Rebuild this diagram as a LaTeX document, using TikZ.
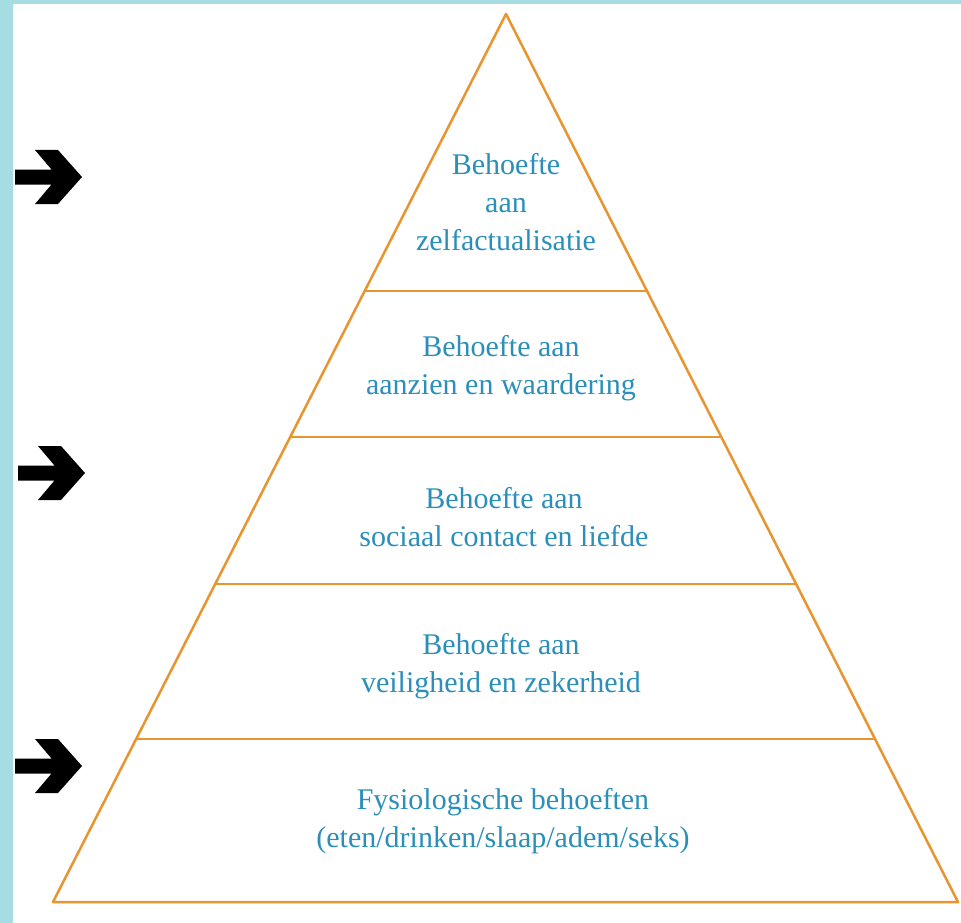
\documentclass[tikz,border=0pt]{standalone}
\usepackage{fontspec}
\setmainfont{Liberation Serif}
\usetikzlibrary{positioning,calc}
\definecolor{framebl}{HTML}{A6DDE3}
\definecolor{pyrorange}{HTML}{E8952F}
\definecolor{labelbl}{HTML}{2B8FB9}

\begin{document}
\begin{tikzpicture}[
    x=1pt, y=-1pt,
    every node/.style={
        text=labelbl,
        align=center,
        inner sep=0pt,
        font=\fontsize{30}{38}\selectfont
    },
    level/.style={draw=pyrorange, line width=2.5pt, line join=round}
]
\fill[white] (0,0) rectangle (961,923);
\fill[framebl] (0,0) rectangle (13,923);
\fill[framebl] (0,0) rectangle (961,4);

\coordinate (apex) at (506,14);
\coordinate (bl) at (53,902);
\coordinate (br) at (958,902);
\draw[level] (apex) -- (bl) -- (br) -- cycle;
\foreach \t in {0.3119,0.4764,0.6419,0.8164}
  \draw[level] ($(apex)!\t!(bl)$) -- ($(apex)!\t!(br)$);

\node (self) at (506,202) {Behoefte\\aan\\zelfactualisatie};
\node (esteem) at (501,368) {Behoefte aan\\aanzien en waardering};
\node (social) at (504,517) {Behoefte aan\\sociaal contact en liefde};
\node (safety) at (501,666) {Behoefte aan\\veiligheid en zekerheid};
\node (phys) at (503,821) {Fysiologische behoeften\\(eten/drinken/slaap/adem/seks)};

% arrows on the left
\foreach \x/\y in {15/177,18/473,15/766}
  \fill[black] (\x,\y-7.5) -- ++(36.5,0) -- ++(-16.5,-19.5) -- ++(23,0)
    -- ++(24,27) -- ++(-24,27) -- ++(-23,0) -- ++(16.5,-19.5)
    -- ++(-36.5,0) -- cycle;
\end{tikzpicture}
\end{document}
